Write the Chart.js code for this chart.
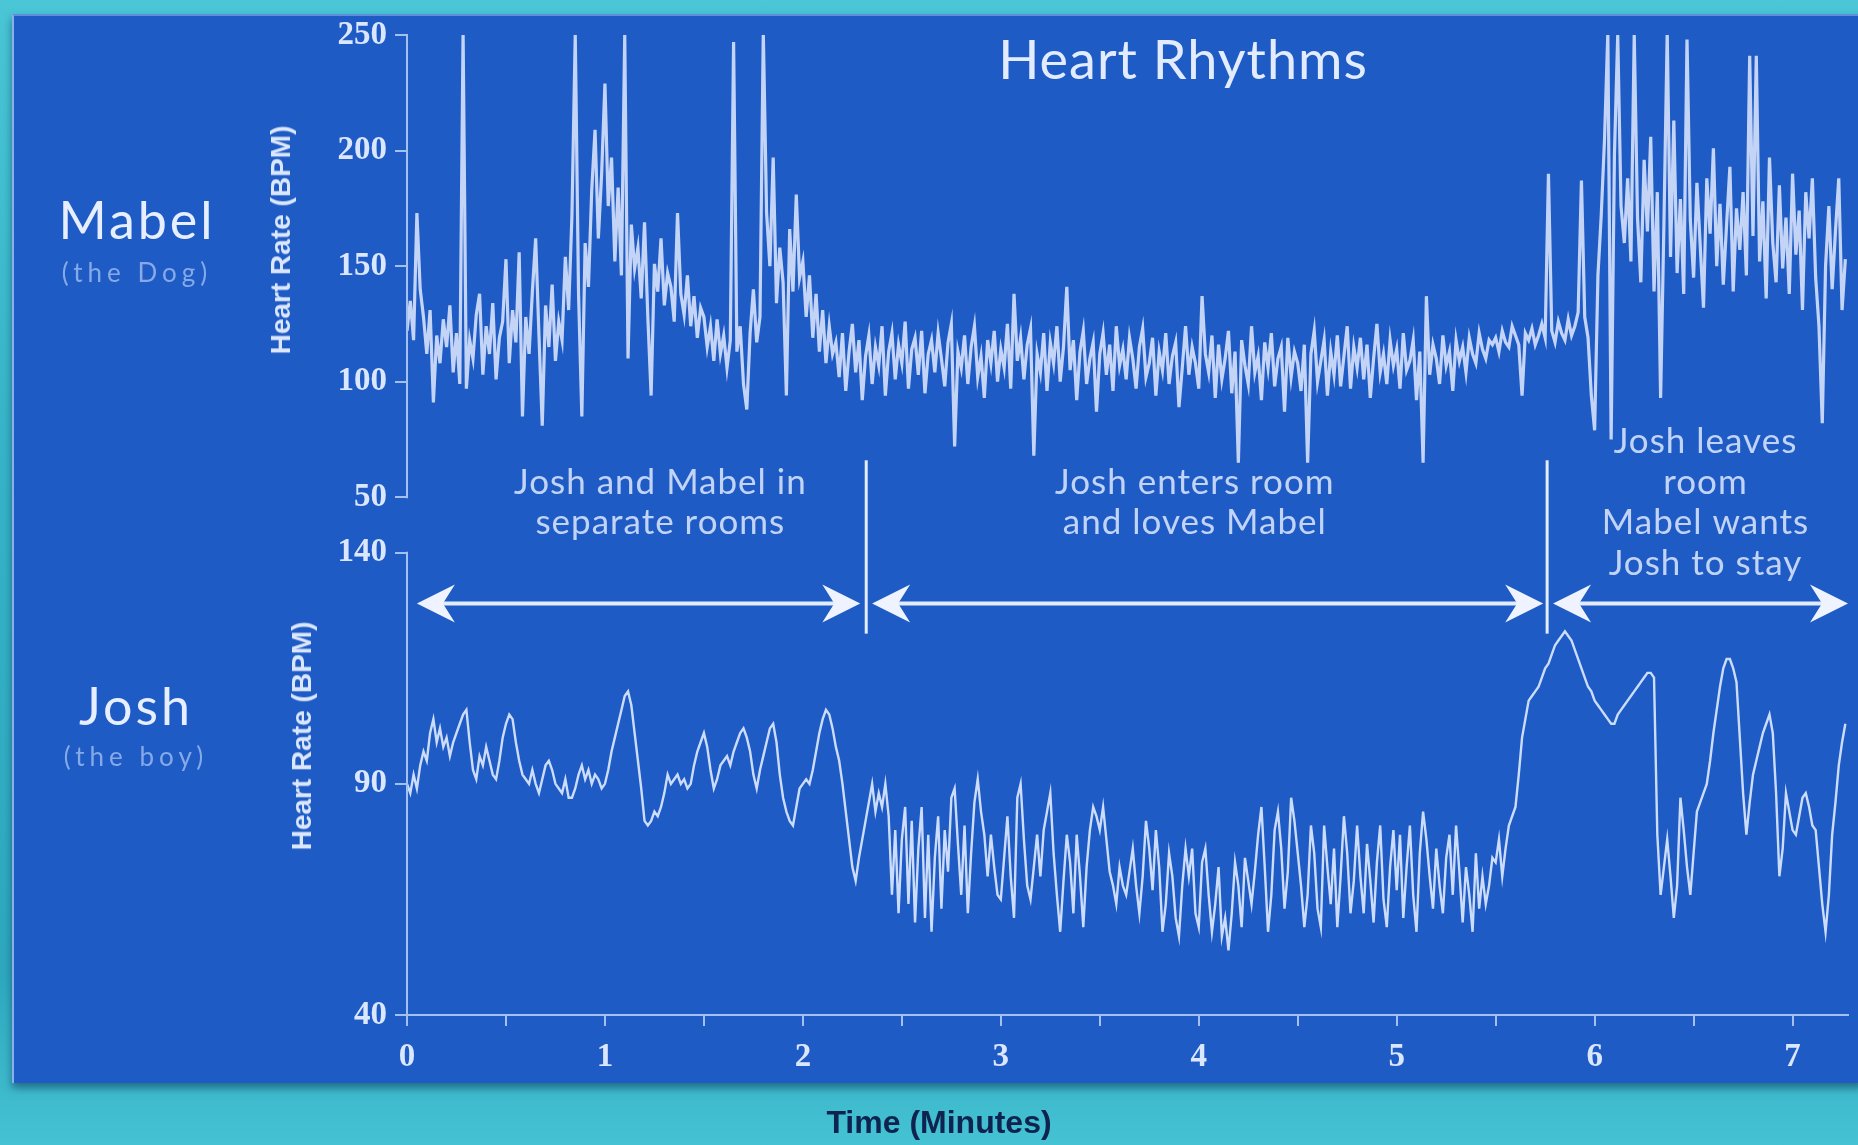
<!DOCTYPE html>
<html>
<head>
<meta charset="utf-8">
<title>Heart Rhythms</title>
<script src="https://cdn.jsdelivr.net/npm/chart.js@4.4.1/dist/chart.umd.min.js"></script>
<style>
  html, body { margin: 0; padding: 0; }
  body {
    width: 1858px; height: 1145px; position: relative; overflow: hidden;
    background: linear-gradient(180deg, #4ac6d6 0%, #36b4c9 40%, #2ea8bf 85%, #45c2d3 100%);
    font-family: Lato, "Open Sans", sans-serif;
  }
  #panel {
    position: absolute; left: 12px; top: 14px; width: 1850px; height: 1067px;
    background: #1e5bc5;
    border-left: 2px solid #8ab0ea; border-top: 2px solid #5d90da;
    box-shadow: 0 5px 8px rgba(10, 50, 80, 0.55);
  }
  #chart { position: absolute; left: 0; top: 0; }
  .lbl { position: absolute; transform: translate(-50%, -50%); white-space: nowrap; }
  .ytitle { position: absolute; transform: translate(-50%, -50%) rotate(-90deg); white-space: nowrap;
    font: bold 28px "Liberation Sans", Arial, sans-serif; color: #dbe6ff; }
  .title { left: 1183px; top: 58px; font-size: 54px; color: #e3ecff; letter-spacing: 1px; }
  .who { font-size: 52px; color: #e6eeff; letter-spacing: 3px; }
  .sub { font-size: 26px; color: #86a9e8; letter-spacing: 5px; }
  .xtitle { left: 939px; top: 1122px; font: bold 32px "Liberation Sans", Arial, sans-serif; color: #0f2350; }
</style>
</head>
<body>
<div id="panel"></div>
<canvas id="chart" width="1858" height="1145"></canvas>
<div class="lbl title">Heart Rhythms</div>
<div class="lbl who" style="left:137px; top:219px;">Mabel</div>
<div class="lbl sub" style="left:137px; top:272px;">(the Dog)</div>
<div class="lbl who" style="left:136px; top:705px;">Josh</div>
<div class="lbl sub" style="left:136px; top:756px;">(the boy)</div>
<div class="ytitle" style="left:281px; top:240px;">Heart Rate (BPM)</div>
<div class="ytitle" style="left:302px; top:736px;">Heart Rate (BPM)</div>
<div class="lbl xtitle">Time (Minutes)</div>
<script>
// one reading per second
const secondsPerSample = 1;

// Mabel (the dog), BPM
const mabelBpm = [
  122, 135, 118, 173, 140, 128, 112, 131, 91, 120,
  108, 127, 115, 133, 104, 121, 99, 251, 97, 118,
  110, 129, 138, 103, 124, 112, 134, 101, 119, 126,
  153, 108, 131, 117, 156, 85, 128, 112, 139, 162,
  120, 81, 133, 115, 142, 109, 126, 118, 154, 131,
  172, 250, 138, 85, 160, 141, 183, 209, 162, 190,
  229, 176, 197, 152, 184, 146, 250, 110, 168, 149,
  158, 136, 169, 128, 94, 151, 139, 162, 133, 147,
  141, 126, 173, 138, 129, 146, 124, 137, 119, 132,
  128, 115, 124, 109, 127, 112, 120, 106, 118, 247,
  113, 124, 99, 88, 121, 140, 117, 128, 251, 173,
  150, 197, 134, 158, 143, 94, 166, 139, 181, 145,
  152, 128, 146, 119, 138, 113, 131, 108, 124, 112,
  117, 102, 121, 96, 113, 125, 104, 118, 92, 111,
  120, 99, 115, 107, 124, 94, 113, 121, 101, 116,
  108, 126, 97, 114, 119, 103, 122, 95, 112, 118,
  104, 121, 110, 98, 117, 125, 72, 113, 106, 120,
  99, 115, 124, 102, 111, 93, 118, 108, 122, 100,
  114, 106, 125, 97, 138, 109, 119, 101, 116, 123,
  68, 112, 104, 121, 96, 117, 108, 124, 100, 115,
  141, 105, 118, 92, 113, 122, 99, 110, 117, 87,
  112, 121, 103, 116, 96, 124, 107, 114, 101, 119,
  110, 97, 115, 123, 102, 108, 119, 94, 113, 105,
  121, 99, 111, 117, 89, 106, 124, 103, 115, 108,
  97, 137, 112, 104, 120, 93, 116, 101, 110, 122,
  95, 113, 65, 118, 107, 99, 124, 104, 111, 92,
  117, 106, 121, 98, 110, 115, 87, 119, 102, 113,
  108, 96, 116, 65, 112, 122, 100, 109, 118, 94,
  113, 103, 120, 98, 111, 124, 97, 115, 106, 119,
  101, 116, 93, 110, 125, 104, 112, 99, 118, 107,
  114, 97, 121, 105, 109, 118, 92, 113, 65, 137,
  103, 116, 110, 99, 120, 107, 113, 96, 118, 109,
  115, 104, 119, 112, 108, 121, 114, 110, 118, 116,
  119, 113, 122, 117, 115, 124, 120, 116, 94, 121,
  118, 123, 116, 120, 125, 119, 190, 122, 117, 126,
  121, 118, 127, 120, 124, 130, 187, 128, 119, 94,
  79, 146, 172, 205, 251, 75, 198, 250, 176, 160,
  188, 152, 250, 171, 143, 196, 165, 206, 139, 182,
  93, 168, 251, 154, 213, 147, 179, 138, 248, 170,
  145, 186, 159, 132, 188, 164, 201, 150, 177, 142,
  168, 193, 139, 175, 157, 182, 146, 241, 163, 241,
  152, 178, 136, 197, 160, 143, 185, 149, 171, 138,
  190, 155, 174, 131, 182, 162, 188, 145, 124, 82,
  150, 176, 140, 165, 188, 131, 153
];

// Josh (the boy), BPM
const joshBpm = [
  90, 88, 92, 89, 94, 97, 95, 101, 104, 99,
  102, 98, 100, 96, 99, 101, 103, 105, 106, 99,
  93, 91, 96, 94, 98, 95, 92, 91, 95, 100,
  103, 105, 104, 99, 95, 92, 91, 90, 93, 90,
  88, 91, 94, 95, 93, 90, 89, 88, 91, 87,
  87, 89, 92, 94, 91, 93, 90, 92, 91, 89,
  90, 93, 97, 100, 103, 106, 109, 110, 107, 101,
  95, 89, 82, 81, 82, 84, 83, 85, 88, 92,
  90, 91, 92, 90, 91, 89, 90, 94, 97, 99,
  101, 98, 93, 89, 91, 94, 95, 96, 94, 97,
  99, 101, 102, 100, 97, 92, 89, 93, 96, 99,
  102, 103, 99, 92, 87, 84, 82, 81, 85, 89,
  90, 91, 90, 93, 97, 101, 104, 106, 105, 102,
  98, 95, 90, 84, 78, 72, 69, 74, 78, 82,
  86, 90, 84, 88, 85, 90, 83, 66, 80, 62,
  78, 85, 64, 82, 60, 76, 85, 61, 79, 58,
  74, 83, 63, 80, 71, 87, 89, 77, 66, 81,
  62, 75, 86, 91, 84, 79, 70, 79, 72, 66,
  65, 74, 83, 70, 61, 87, 90, 78, 68, 65,
  72, 79, 70, 80, 84, 88, 75, 66, 58, 69,
  79, 73, 62, 79, 70, 59, 72, 80, 85, 83,
  80, 85, 78, 71, 68, 64, 72, 68, 66, 71,
  76, 68, 62, 70, 82, 76, 67, 80, 72, 58,
  64, 75, 70, 61, 57, 68, 76, 70, 76, 62,
  59, 73, 76, 66, 58, 64, 72, 57, 61, 54,
  62, 73, 68, 59, 74, 69, 64, 71, 79, 85,
  72, 58, 66, 80, 84, 76, 63, 71, 87, 82,
  75, 68, 59, 66, 81, 75, 63, 59, 81, 72,
  64, 76, 59, 70, 83, 75, 62, 69, 81, 70,
  62, 77, 69, 60, 73, 81, 65, 59, 72, 80,
  67, 79, 61, 72, 81, 66, 58, 75, 84, 78,
  70, 63, 76, 68, 62, 74, 79, 66, 81, 71,
  60, 72, 66, 58, 75, 63, 70, 64, 68, 74,
  73, 78, 70, 76, 81, 83, 85, 92, 100, 104,
  108, 109, 110, 111, 113, 115, 116, 118, 120, 121,
  122, 123, 122, 121, 119, 117, 115, 113, 111, 110,
  108, 107, 106, 105, 104, 103, 103, 105, 106, 107,
  108, 109, 110, 111, 112, 113, 114, 114, 113, 79,
  66, 72, 78, 70, 61, 68, 87, 80, 72, 66,
  75, 84, 86, 88, 90, 95, 101, 106, 111, 115,
  117, 117, 115, 112, 100, 88, 79, 86, 92, 95,
  98, 101, 103, 105, 101, 88, 70, 76, 88, 84,
  80, 79, 83, 87, 88, 85, 81, 80, 72, 64,
  58, 66, 79, 86, 94, 99, 103
];

// axis ticks
const timeTicks = [0, 0.5, 1, 1.5, 2, 2.5, 3, 3.5, 4, 4.5, 5, 5.5, 6, 6.5, 7];
const mabelTicks = [50, 100, 150, 200, 250];
const joshTicks = [40, 90, 140];

// phase annotations (minutes / Josh BPM)
const dividerMinutes = [2.32, 5.76];
const dividerSpan = [160, 122.5];
const arrowSpans = [[0.05, 2.29], [2.35, 5.74], [5.79, 7.28]];
const arrowBpm = 129;
const phaseCentres = [1.28, 3.98, 6.56];
const phaseTopBpm = [155.2, 155.2, 164];
const phaseLines = [
  ['Josh and Mabel in', 'separate rooms'],
  ['Josh enters room', 'and loves Mabel'],
  ['Josh leaves', 'room', 'Mabel wants', 'Josh to stay']
];
const phaseLineStep = 8.8;

const axisColor = '#a3c0f0';
const tickColor = '#dbe6ff';
const noteColor = 'rgba(222, 233, 255, 0.85)';
const tickFont = { family: 'Liberation Serif', size: 33, weight: 'bold' };

const toPoints = arr => arr.map((v, i) => ({ x: i * secondsPerSample / 60, y: v }));

function drawArrow(ctx, x1, x2, y) {
  ctx.lineWidth = 4;
  ctx.beginPath();
  ctx.moveTo(x1 + 14, y);
  ctx.lineTo(x2 - 14, y);
  ctx.stroke();
  [[x1, 1], [x2, -1]].forEach(([tip, dir]) => {
    ctx.beginPath();
    ctx.moveTo(tip, y);
    ctx.lineTo(tip + dir * 38, y - 19);
    ctx.lineTo(tip + dir * 26, y);
    ctx.lineTo(tip + dir * 38, y + 19);
    ctx.closePath();
    ctx.fill();
  });
}

// y axis lines only between the first and last tick of each block
const axisLines = {
  id: 'axisLines',
  afterDraw(chart) {
    const { ctx } = chart;
    ctx.save();
    ctx.strokeStyle = axisColor;
    ctx.lineWidth = 2;
    [['yMabel', mabelTicks], ['yJosh', joshTicks]].forEach(([id, t]) => {
      const s = chart.scales[id];
      ctx.beginPath();
      ctx.moveTo(s.right, s.getPixelForValue(t[t.length - 1]) - 1);
      ctx.lineTo(s.right, s.getPixelForValue(t[0]) + 1);
      ctx.stroke();
    });
    ctx.restore();
  }
};

const phases = {
  id: 'phases',
  afterDatasetsDraw(chart) {
    const { ctx, scales: { x, yJosh } } = chart;
    ctx.save();
    ctx.strokeStyle = '#e4edff';
    ctx.fillStyle = '#eef3ff';
    ctx.lineWidth = 3;
    dividerMinutes.forEach(m => {
      const px = x.getPixelForValue(m);
      ctx.beginPath();
      ctx.moveTo(px, yJosh.getPixelForValue(dividerSpan[0]));
      ctx.lineTo(px, yJosh.getPixelForValue(dividerSpan[1]));
      ctx.stroke();
    });
    arrowSpans.forEach(([a, b]) => drawArrow(ctx, x.getPixelForValue(a), x.getPixelForValue(b), yJosh.getPixelForValue(arrowBpm)));

    ctx.fillStyle = noteColor;
    ctx.font = '35px Lato, "Open Sans", sans-serif';
    ctx.letterSpacing = '1px';
    ctx.textAlign = 'center';
    ctx.textBaseline = 'middle';
    phaseLines.forEach((lines, i) => {
      lines.forEach((line, k) => {
        ctx.fillText(line, x.getPixelForValue(phaseCentres[i]), yJosh.getPixelForValue(phaseTopBpm[i] - k * phaseLineStep));
      });
    });
    ctx.restore();
  }
};

const yCommon = {
  type: 'linear',
  position: 'left',
  stack: 'bpm',
  stackWeight: 1,
  afterFit: s => { s.width = 167; },
  border: { display: false },
  grid: { drawOnChartArea: false, drawTicks: true, tickLength: 12, color: axisColor, lineWidth: 2 },
  ticks: { color: tickColor, font: tickFont, padding: 8 }
};

new Chart(document.getElementById('chart'), {
  type: 'line',
  data: {
    datasets: [
      {
        label: 'Mabel',
        data: toPoints(mabelBpm),
        yAxisID: 'yMabel',
        borderColor: 'rgba(224, 234, 255, 0.85)',
        borderWidth: 3.2,
        pointRadius: 0,
        tension: 0
      },
      {
        label: 'Josh',
        data: toPoints(joshBpm),
        yAxisID: 'yJosh',
        borderColor: 'rgba(214, 228, 255, 0.95)',
        borderWidth: 2.4,
        pointRadius: 0,
        tension: 0
      }
    ]
  },
  options: {
    responsive: false,
    animation: false,
    layout: { padding: { left: 240, top: 35, right: 10, bottom: 0 } },
    plugins: {
      legend: { display: false },
      tooltip: { enabled: false }
    },
    scales: {
      x: {
        type: 'linear',
        min: 0,
        max: 7.28,
        afterBuildTicks: s => { s.ticks = timeTicks.map(v => ({ value: v })); },
        afterFit: s => { s.height = 130; },
        border: { display: true, color: axisColor, width: 2 },
        grid: { drawOnChartArea: false, drawTicks: true, tickLength: 11, color: axisColor, lineWidth: 2 },
        ticks: {
          color: tickColor, font: tickFont, padding: 12, maxRotation: 0, autoSkip: false,
          callback: v => Number.isInteger(v) ? String(v) : ''
        }
      },
      yMabel: {
        ...yCommon,
        weight: 2,
        min: 38,
        max: 250,
        afterBuildTicks: s => { s.ticks = mabelTicks.map(v => ({ value: v })); }
      },
      yJosh: {
        ...yCommon,
        weight: 1,
        min: 40,
        max: 146,
        afterBuildTicks: s => { s.ticks = joshTicks.map(v => ({ value: v })); }
      }
    }
  },
  plugins: [axisLines, phases]
});
</script>
</body>
</html>
